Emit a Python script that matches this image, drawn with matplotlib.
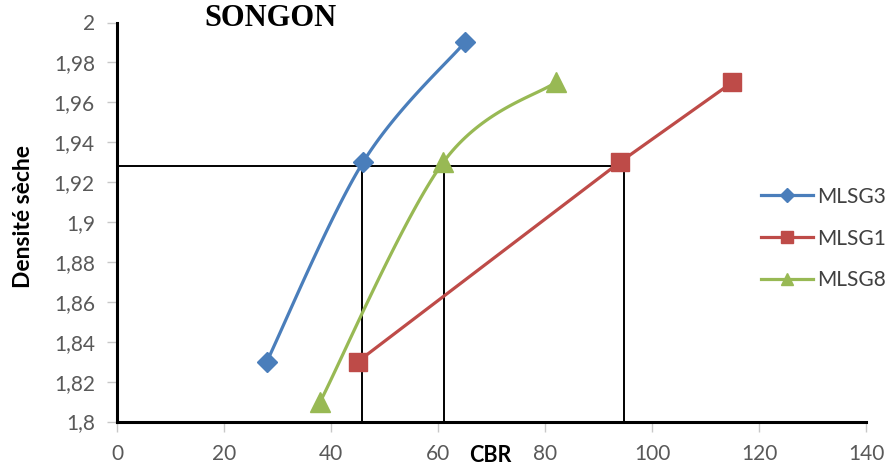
import numpy as np
import matplotlib
matplotlib.use("Agg")
import matplotlib.pyplot as plt
from matplotlib.lines import Line2D

# Data: CBR vs dry density for three samples
cbr_mlsg3 = [28, 46, 65]
dens_mlsg3 = [1.83, 1.93, 1.99]
cbr_mlsg1 = [45, 94, 115]
dens_mlsg1 = [1.83, 1.93, 1.97]
cbr_mlsg8 = [38, 61, 82]
dens_mlsg8 = [1.81, 1.93, 1.97]

# Reference density and the CBR values read at that density
ref_density = 1.928
ref_cbr = [45.8, 61.2, 94.8]

x_ticks = [0, 20, 40, 60, 80, 100, 120, 140]
y_ticks = [1.80, 1.82, 1.84, 1.86, 1.88, 1.90, 1.92, 1.94, 1.96, 1.98, 2.00]
y_tick_labels = ["1,8", "1,82", "1,84", "1,86", "1,88", "1,9", "1,92", "1,94", "1,96", "1,98", "2"]

BLUE = "#4a7ebb"
RED = "#be4b48"
GREEN = "#98b954"

W, H = 888, 471
fig = plt.figure(figsize=(W / 100, H / 100), dpi=100)
left_px, right_px, top_px, bottom_px = 117, 866, 22.5, 421.5
ax = fig.add_axes([left_px / W, 1 - bottom_px / H,
                   (right_px - left_px) / W, (bottom_px - top_px) / H])
ax.set_xlim(0, 140)
ax.set_ylim(1.8, 2.0)

XR, YR = 140.0, 0.2
AW, AH = right_px - left_px, bottom_px - top_px


def smooth(xs, ys, n=40):
    """Bezier smoothing through points (same idea as spreadsheet smoothed lines)."""
    p = np.column_stack([np.asarray(xs, float) / XR * AW,
                         (np.asarray(ys, float) - 1.8) / YR * AH])
    pts = np.vstack([p[0], p, p[-1]])
    out = []
    for i in range(1, len(pts) - 2):
        p0, p1, p2, p3 = pts[i - 1], pts[i], pts[i + 1], pts[i + 2]
        c1 = p1 + (p2 - p0) / 6.0
        c2 = p2 - (p3 - p1) / 6.0
        t = np.linspace(0, 1, n)[:, None]
        seg = ((1 - t) ** 3) * p1 + 3 * ((1 - t) ** 2) * t * c1 + 3 * (1 - t) * t ** 2 * c2 + t ** 3 * p2
        out.append(seg if i == 1 else seg[1:])
    c = np.vstack(out)
    return c[:, 0] / AW * XR, c[:, 1] / AH * YR + 1.8


# Reference lines
ax.plot([0, ref_cbr[-1]], [ref_density, ref_density], color="black", lw=1.4, zorder=2)
for xv in ref_cbr:
    ax.plot([xv, xv], [1.8, ref_density], color="black", lw=1.4, zorder=2)

lw = 2.3
sx, sy = smooth(cbr_mlsg3, dens_mlsg3)
ax.plot(sx, sy, color=BLUE, lw=lw, zorder=3)
ax.plot(cbr_mlsg3, dens_mlsg3, ls="none", marker="D", ms=10, color=BLUE, zorder=4)

ax.plot(cbr_mlsg1, dens_mlsg1, color=RED, lw=lw, marker="s", ms=13, zorder=3)

sx, sy = smooth(cbr_mlsg8, dens_mlsg8)
ax.plot(sx, sy, color=GREEN, lw=lw, zorder=3)
ax.plot(cbr_mlsg8, dens_mlsg8, ls="none", marker="^", ms=14, color=GREEN, zorder=4)

# Axes styling
for s in ["top", "right"]:
    ax.spines[s].set_visible(False)
for s in ["left", "bottom"]:
    ax.spines[s].set_color("black")
    ax.spines[s].set_linewidth(2.2)
ax.set_xticks(x_ticks)
ax.set_xticklabels([str(v) for v in x_ticks])
ax.set_yticks(y_ticks)
ax.set_yticklabels(y_tick_labels)
ax.tick_params(axis="both", direction="out", length=7, width=1, color="#c8c8c8",
               labelcolor="#595959", labelsize=15)
ax.tick_params(axis="x", pad=9)
ax.tick_params(axis="y", pad=9)
for lab in ax.get_xticklabels() + ax.get_yticklabels():
    lab.set_family("Lato")

fig.text(270 / W, 1 - 19 / H, "SONGON", family="Liberation Serif", weight="bold",
         fontsize=22, ha="center", va="center", color="black")
fig.text(490 / W, 1 - 455 / H, "CBR", family="Lato", weight="bold",
         fontsize=15.5, ha="center", va="center", color="black")
fig.text(23 / W, 1 - 217 / H, "Densité sèche", family="Lato", weight="bold",
         fontsize=16.5, rotation=90, ha="center", va="center", color="black")

handles = [
    Line2D([], [], color=BLUE, lw=lw, marker="D", ms=7),
    Line2D([], [], color=RED, lw=lw, marker="s", ms=9),
    Line2D([], [], color=GREEN, lw=lw, marker="^", ms=9),
]
leg = fig.legend(handles, ["MLSG3", "MLSG1", "MLSG8"], loc="upper left",
                 bbox_to_anchor=(742 / W, 1 - 168 / H), frameon=False,
                 handlelength=2.5, handletextpad=0.2, labelspacing=1.05,
                 prop={"family": "Lato", "size": 15})
for t in leg.get_texts():
    t.set_color("#404040")

fig.savefig("out.png", dpi=100)
